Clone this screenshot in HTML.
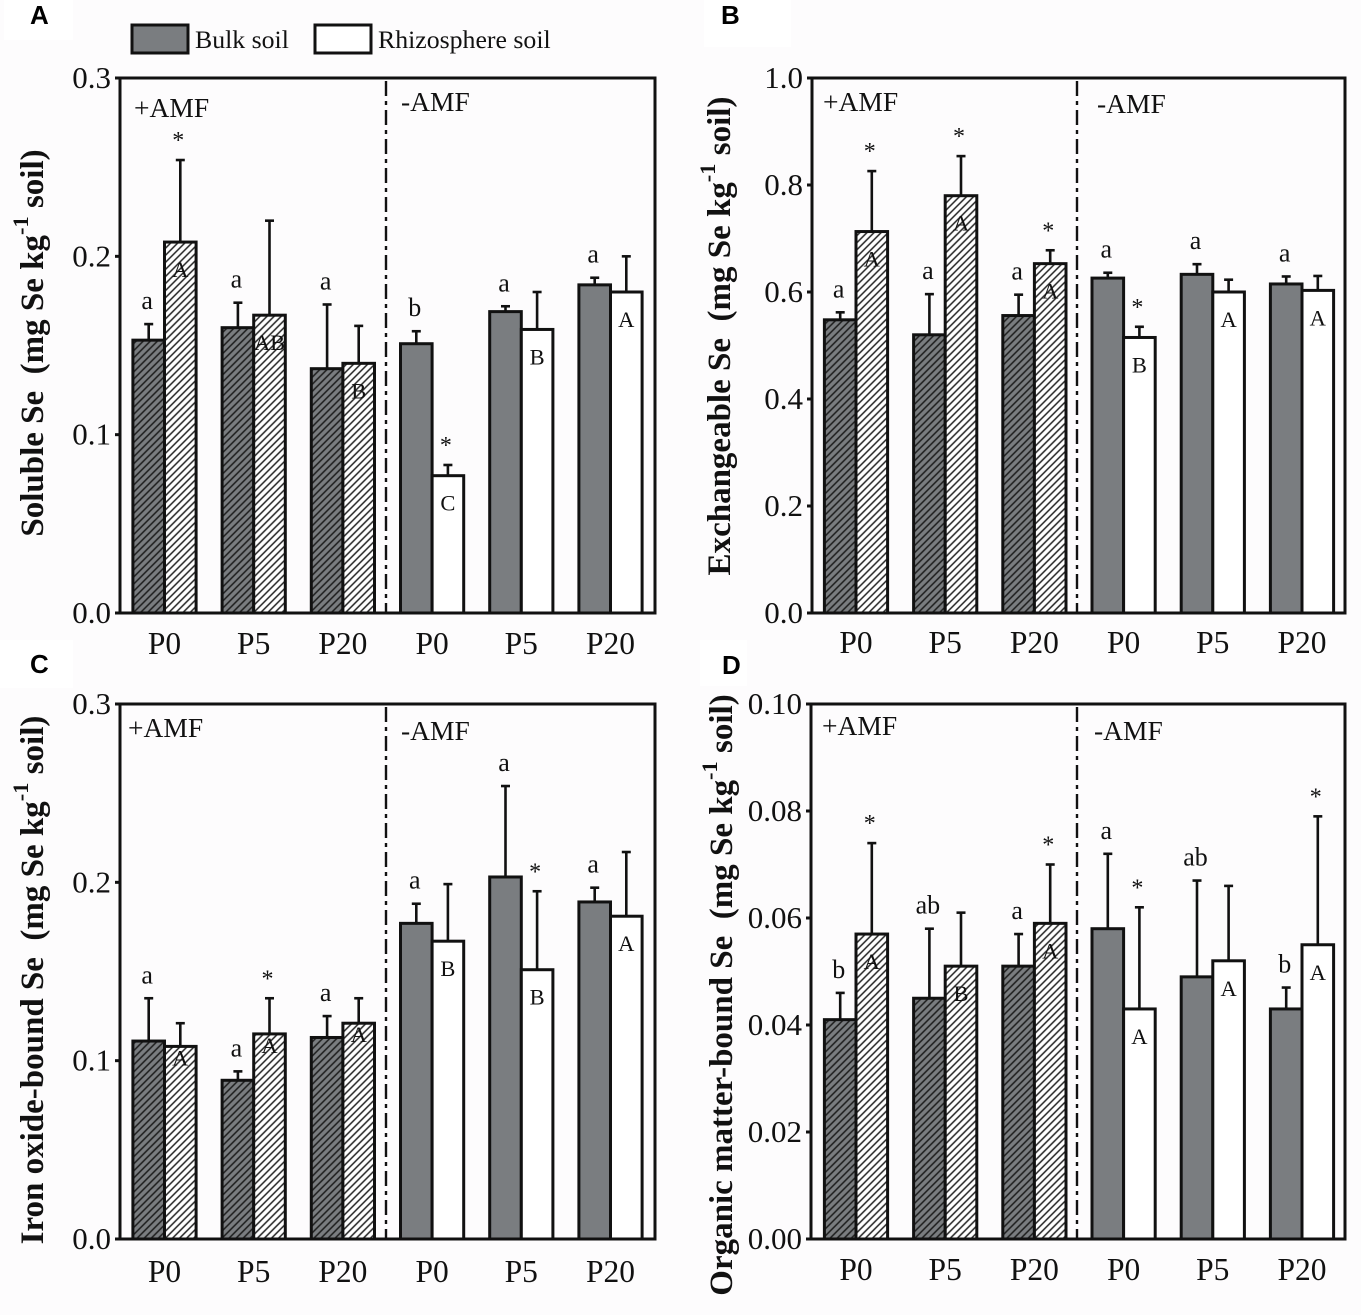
<!DOCTYPE html>
<html lang="en">
<head>
<meta charset="utf-8">
<title>Se fractions in bulk and rhizosphere soil</title>
<style>
html,body{margin:0;padding:0;background:#fdfcfd;}
svg{display:block;}
text{font-family:"Liberation Serif",serif;fill:#111;}
.panel-letter{font-family:"Liberation Sans",sans-serif;font-weight:bold;font-size:26px;fill:#000;}
</style>
</head>
<body>
<svg id="chart" xmlns="http://www.w3.org/2000/svg" width="1361" height="1315" viewBox="0 0 1361 1315">
  <defs>
    <pattern id="hatch-gray" patternUnits="userSpaceOnUse" width="5" height="5" patternTransform="rotate(45)">
      <rect width="5" height="5" fill="#7a7d80"></rect>
      <line x1="2.5" y1="0" x2="2.5" y2="5" stroke="#1c1c1c" stroke-width="1.5"></line>
    </pattern>
    <pattern id="hatch-white" patternUnits="userSpaceOnUse" width="5" height="5" patternTransform="rotate(45)">
      <rect width="5" height="5" fill="#ffffff"></rect>
      <line x1="2.5" y1="0" x2="2.5" y2="5" stroke="#222" stroke-width="1.5"></line>
    </pattern>
  </defs>
  <rect width="1361" height="1315" fill="#fdfcfd"></rect>
  <rect x="4" y="0" width="69" height="40" fill="#fff"></rect>
  <rect x="704" y="0" width="87" height="47" fill="#fff"></rect>
  <rect x="0" y="640" width="73" height="48" fill="#fff"></rect>
  <rect x="700" y="640" width="47" height="46" fill="#fff"></rect>
  <text class="panel-letter" x="30" y="24">A</text>
  <text class="panel-letter" x="721" y="24">B</text>
  <text class="panel-letter" x="30" y="673">C</text>
  <text class="panel-letter" x="722" y="674">D</text>
  <g>
    <rect x="132" y="25" width="56" height="28" fill="#7a7d80" stroke="#111" stroke-width="3"></rect>
    <text x="195" y="48" font-size="25.8">Bulk soil</text>
    <rect x="315" y="25" width="56" height="28" fill="#fff" stroke="#111" stroke-width="3"></rect>
    <text x="378" y="48" font-size="25.8">Rhizosphere soil</text>
  </g>
</svg>
<script>
const groupLabels = ['P0', 'P5', 'P20', 'P0', 'P5', 'P20'];

const ticksA = ['0.0', '0.1', '0.2', '0.3'];
const bulkA = [0.153, 0.160, 0.137, 0.151, 0.169, 0.184];
const bulkTopA = [0.162, 0.174, 0.173, 0.158, 0.172, 0.188];
const rhizoA = [0.208, 0.167, 0.140, 0.077, 0.159, 0.180];
const rhizoTopA = [0.254, 0.220, 0.161, 0.083, 0.180, 0.200];
const bulkLettersA = ['a', 'a', 'a', 'b', 'a', 'a'];
const rhizoLettersA = ['A', 'AB', 'B', 'C', 'B', 'A'];
const starsA = [1, 0, 0, 1, 0, 0];

const ticksB = ['0.0', '0.2', '0.4', '0.6', '0.8', '1.0'];
const bulkB = [0.548, 0.520, 0.556, 0.626, 0.633, 0.615];
const bulkTopB = [0.562, 0.596, 0.595, 0.636, 0.652, 0.629];
const rhizoB = [0.713, 0.780, 0.653, 0.515, 0.600, 0.603];
const rhizoTopB = [0.826, 0.854, 0.678, 0.535, 0.623, 0.630];
const bulkLettersB = ['a', 'a', 'a', 'a', 'a', 'a'];
const rhizoLettersB = ['A', 'A', 'A', 'B', 'A', 'A'];
const starsB = [1, 1, 1, 1, 0, 0];

const ticksC = ['0.0', '0.1', '0.2', '0.3'];
const bulkC = [0.111, 0.089, 0.113, 0.177, 0.203, 0.189];
const bulkTopC = [0.135, 0.094, 0.125, 0.188, 0.254, 0.197];
const rhizoC = [0.108, 0.115, 0.121, 0.167, 0.151, 0.181];
const rhizoTopC = [0.121, 0.135, 0.135, 0.199, 0.195, 0.217];
const bulkLettersC = ['a', 'a', 'a', 'a', 'a', 'a'];
const rhizoLettersC = ['A', 'A', 'A', 'B', 'B', 'A'];
const starsC = [0, 1, 0, 0, 1, 0];

const ticksD = ['0.00', '0.02', '0.04', '0.06', '0.08', '0.10'];
const bulkD = [0.041, 0.045, 0.051, 0.058, 0.049, 0.043];
const bulkTopD = [0.046, 0.058, 0.057, 0.072, 0.067, 0.047];
const rhizoD = [0.057, 0.051, 0.059, 0.043, 0.052, 0.055];
const rhizoTopD = [0.074, 0.061, 0.070, 0.062, 0.066, 0.079];
const bulkLettersD = ['b', 'ab', 'a', 'a', 'ab', 'b'];
const rhizoLettersD = ['A', 'B', 'A', 'A', 'A', 'A'];
const starsD = [1, 0, 1, 1, 0, 1];

const NS = 'http://www.w3.org/2000/svg';
const svg = document.getElementById('chart');

function mk(parent, tag, attrs, txt) {
  const n = document.createElementNS(NS, tag);
  for (const k in attrs) n.setAttribute(k, attrs[k]);
  if (txt !== undefined) n.textContent = txt;
  parent.appendChild(n);
  return n;
}

function drawPanel(p) {
  const yScale = v => p.bottom - (v / p.yMax) * (p.bottom - p.top);
  const xScale = i => p.firstCenter + p.step * i;
  const barW = 31.6;

  const g = mk(svg, 'g', {});
  
  

  groupLabels.forEach((label, i) => {
    const cx = xScale(i);
    const hatched = i < 3;
    const series = [
      { key: 'bulk', val: p.bulk[i], top: p.bulkTop[i], x: cx - barW, fill: hatched ? 'url(#hatch-gray)' : '#7a7d80' },
      { key: 'rhizosphere', val: p.rhizo[i], top: p.rhizoTop[i], x: cx, fill: hatched ? 'url(#hatch-white)' : '#ffffff' }
    ];
    series.forEach(s => {
      const mid = s.x + barW / 2;
      const err = mk(g, 'line', { x1: mid, x2: mid, y1: yScale(s.val), y2: yScale(s.top), stroke: '#111', 'stroke-width': 2.6 });
      
      
      const cap = mk(g, 'line', { x1: mid - 4.5, x2: mid + 4.5, y1: yScale(s.top), y2: yScale(s.top), stroke: '#111', 'stroke-width': 2.6 });
      
      
      const bar = mk(g, 'rect', { x: s.x, y: yScale(s.val), width: barW, height: p.bottom - yScale(s.val), fill: s.fill, stroke: '#111', 'stroke-width': 3 });
      
      
    });

    const bulkLetter = mk(g, 'text', { x: cx - barW / 2 - 1.5, y: yScale(p.bulkTop[i]) - 15, 'text-anchor': 'middle', 'font-size': 26 }, p.bulkLetters[i]);
    
    

    const drop = (p.id === 'c' && i < 3) ? 19 : 35;
    const rhizoLetter = mk(g, 'text', { x: cx + barW / 2, y: yScale(p.rhizo[i]) + drop, 'text-anchor': 'middle', 'font-size': 22.5 }, p.rhizoLetters[i]);
    
    

    if (p.stars[i]) {
      const star = mk(g, 'text', { x: cx + barW / 2 - 2, y: yScale(p.rhizoTop[i]) - 12, 'text-anchor': 'middle', 'font-size': 24 }, '*');
      
      
    }

    const xl = mk(g, 'text', { x: cx, y: p.xLabelY, 'text-anchor': 'middle', 'font-size': 31.5 }, label);
    
    
  });

  const divider = mk(g, 'line', { x1: p.divider, x2: p.divider, y1: p.top + 3, y2: p.bottom, stroke: '#111', 'stroke-width': 2.4, 'stroke-dasharray': '15 5 4 5' });
  
  

  const frame = mk(g, 'rect', { x: p.left, y: p.top, width: p.right - p.left, height: p.bottom - p.top, fill: 'none', stroke: '#111', 'stroke-width': 3 });
  
  

  p.ticks.forEach(t => {
    const y = yScale(parseFloat(t));
    const tick = mk(g, 'line', { x1: p.left - 5, x2: p.left, y1: y, y2: y, stroke: '#111', 'stroke-width': 3 });
    
    
    const lab = mk(g, 'text', { x: p.left - 9, y: y + 10, 'text-anchor': 'end', 'font-size': 31 }, t);
    
    
  });

  const plus = mk(g, 'text', { x: p.plusX, y: p.plusY, 'font-size': 27.5 }, '+AMF');
  
  
  const minus = mk(g, 'text', { x: p.minusX, y: p.minusY, 'font-size': 27.5 }, '-AMF');
  
  

  const title = mk(g, 'text', { transform: 'translate(' + p.titleX + ',' + p.titleY + ') rotate(-90)', 'text-anchor': 'middle', 'font-size': p.titleSize, 'font-weight': 'bold', 'xml:space': 'preserve', style: 'white-space:pre' });
  
  
  mk(title, 'tspan', {}, p.title + '  (mg Se kg');
  mk(title, 'tspan', { dy: -15, 'font-size': p.titleSize * 0.68 }, '-1');
  mk(title, 'tspan', { dy: 15 }, ' soil)');
}

drawPanel({ id: 'a', left: 120, right: 655, top: 78, bottom: 613, divider: 386, yMax: 0.3, firstCenter: 164.5, step: 89.2, xLabelY: 654, ticks: ticksA, bulk: bulkA, bulkTop: bulkTopA, rhizo: rhizoA, rhizoTop: rhizoTopA, bulkLetters: bulkLettersA, rhizoLetters: rhizoLettersA, stars: starsA, plusX: 134, plusY: 117, minusX: 401, minusY: 111, title: 'Soluble Se', titleX: 43, titleY: 343, titleSize: 33 });
drawPanel({ id: 'b', left: 812, right: 1345, top: 78, bottom: 613, divider: 1077, yMax: 1.0, firstCenter: 856, step: 89.2, xLabelY: 653, ticks: ticksB, bulk: bulkB, bulkTop: bulkTopB, rhizo: rhizoB, rhizoTop: rhizoTopB, bulkLetters: bulkLettersB, rhizoLetters: rhizoLettersB, stars: starsB, plusX: 823, plusY: 111, minusX: 1097, minusY: 113, title: 'Exchangeable Se', titleX: 730, titleY: 336, titleSize: 33 });
drawPanel({ id: 'c', left: 120, right: 655, top: 704, bottom: 1239, divider: 386, yMax: 0.3, firstCenter: 164.5, step: 89.2, xLabelY: 1282, ticks: ticksC, bulk: bulkC, bulkTop: bulkTopC, rhizo: rhizoC, rhizoTop: rhizoTopC, bulkLetters: bulkLettersC, rhizoLetters: rhizoLettersC, stars: starsC, plusX: 128, plusY: 737, minusX: 401, minusY: 740, title: 'Iron oxide-bound Se', titleX: 43, titleY: 980, titleSize: 33 });
drawPanel({ id: 'd', left: 811, right: 1345, top: 704, bottom: 1239, divider: 1077, yMax: 0.1, firstCenter: 856, step: 89.2, xLabelY: 1280, ticks: ticksD, bulk: bulkD, bulkTop: bulkTopD, rhizo: rhizoD, rhizoTop: rhizoTopD, bulkLetters: bulkLettersD, rhizoLetters: rhizoLettersD, stars: starsD, plusX: 822, plusY: 735, minusX: 1094, minusY: 740, title: 'Organic matter-bound Se', titleX: 732, titleY: 995, titleSize: 33 });
</script>
</body>
</html>
